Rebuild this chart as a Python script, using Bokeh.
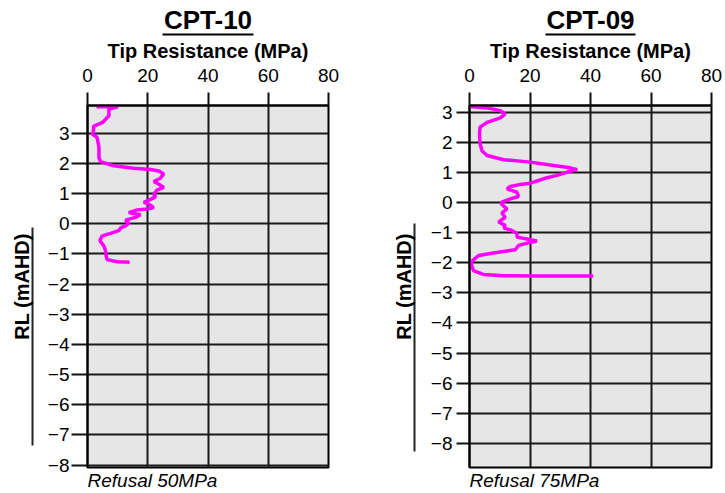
from bokeh.plotting import figure
from bokeh.layouts import row
from bokeh.models import Range1d, FixedTicker, Title, LinearAxis
from bokeh.embed import file_html
from bokeh.resources import INLINE

FONT = "Liberation Sans"

# ---- data (tip resistance MPa vs reduced level mAHD) ----
cpt10_qc = [3.0, 10.1, 7.1, 7.1, 4.9, 2.1, 1.9, 1.6, 3.2, 3.8, 3.8, 4.3, 8.7, 15.4, 20.9,
            23.7, 25.3, 24.2, 22.0, 23.7, 25.3, 23.1, 22.0, 22.6, 20.9, 18.7, 20.3, 22.0,
            19.8, 16.5, 13.7, 17.6, 15.9, 12.6, 13.7, 12.6, 11.0, 10.4, 7.6, 4.9, 4.1,
            5.4, 6.0, 6.2, 6.5, 9.8, 14.0]
cpt10_rl = [3.88, 3.88, 3.80, 3.58, 3.35, 3.24, 3.02, 2.97, 2.86, 2.53, 2.20, 2.06, 1.92,
            1.84, 1.80, 1.75, 1.65, 1.51, 1.40, 1.31, 1.20, 1.12, 0.98, 0.89, 0.81, 0.71,
            0.65, 0.54, 0.49, 0.46, 0.37, 0.30, 0.21, 0.12, 0.01, -0.07, -0.14, -0.23,
            -0.32, -0.40, -0.56, -0.73, -0.89, -1.08, -1.19, -1.26, -1.28]

cpt09_qc = [0.2, 5.8, 10.2, 11.8, 10.2, 5.8, 3.5, 3.3, 3.5, 4.1, 5.8, 11.3, 20.1, 27.8,
            33.3, 35.6, 32.3, 28.9, 25.6, 23.4, 20.1, 16.8, 13.5, 12.4, 15.7, 16.2, 13.5,
            10.7, 10.5, 12.4, 10.7, 11.8, 9.6, 11.8, 11.4, 13.5, 15.7, 15.7, 19.0, 22.3,
            19.0, 16.2, 15.1, 7.9, 3.0, 1.1, 0.5, 1.3, 4.6, 11.3, 22.3, 40.9]
cpt09_rl = [3.19, 3.14, 3.05, 2.94, 2.81, 2.66, 2.50, 2.28, 1.95, 1.72, 1.56, 1.42, 1.34,
            1.23, 1.15, 1.09, 1.01, 0.90, 0.82, 0.75, 0.64, 0.60, 0.53, 0.45, 0.34, 0.20,
            0.12, 0.01, -0.05, -0.21, -0.35, -0.49, -0.65, -0.76, -0.85, -0.91, -1.02,
            -1.15, -1.21, -1.28, -1.35, -1.43, -1.57, -1.68, -1.76, -1.92, -2.03, -2.26,
            -2.39, -2.43, -2.44, -2.44]

x_ticks = [0, 20, 40, 60, 80]
y_ticks = [-8, -7, -6, -5, -4, -3, -2, -1, 0, 1, 2, 3]

titles = ["CPT-10", "CPT-09"]
x_label = "Tip Resistance (MPa)"
y_label = "RL (mAHD)"
notes = ["Refusal 50MPa", "Refusal 75MPa"]


def make_plot(name, note, qc, rl, y_lo, y_hi, width, bl, br, tick_out, lab_standoff,
              spacer, side_bounds):
    p = figure(width=width, height=493, output_backend="svg", toolbar_location=None,
               x_range=Range1d(0, 80), y_range=Range1d(y_lo, y_hi),
               x_axis_location="above",
               min_border_left=bl, min_border_right=br,
               min_border_top=105, min_border_bottom=26)
    p.title.visible = False
    p.background_fill_color = "#e6e6e6"
    p.border_fill_color = "white"
    p.outline_line_color = "black"
    p.outline_line_width = 2

    xa = p.xaxis[0]
    ya = p.yaxis[0]
    xa.ticker = FixedTicker(ticks=x_ticks)
    ya.ticker = FixedTicker(ticks=y_ticks)
    for ax in (xa, ya):
        ax.major_tick_in = 0
        ax.minor_tick_in = 0
        ax.minor_tick_out = 0
        ax.major_tick_line_color = "#111111"
        ax.major_tick_line_width = 2
        ax.axis_line_color = "black"
        ax.axis_line_width = 2
        ax.major_label_text_font = FONT
        ax.major_label_text_font_size = "19px"
        ax.major_label_text_color = "black"
    xa.major_tick_out = 13
    xa.major_label_standoff = 11
    ya.major_tick_out = tick_out
    ya.major_label_standoff = lab_standoff

    p.xgrid.ticker = FixedTicker(ticks=x_ticks)
    p.ygrid.ticker = FixedTicker(ticks=y_ticks)
    p.grid.grid_line_color = "#1a1a1a"
    p.grid.grid_line_width = 2

    # left side: an invisible spacer, then the bracket line carrying the axis title
    sp = LinearAxis(ticker=FixedTicker(ticks=[0]), axis_line_alpha=0,
                    major_tick_out=spacer, major_tick_in=0, minor_tick_out=0,
                    minor_tick_in=0, major_tick_line_alpha=0,
                    major_label_standoff=0, major_label_overrides={0: ""})
    p.add_layout(sp, "left")
    side = LinearAxis(ticker=FixedTicker(ticks=[]), bounds=side_bounds,
                      axis_line_color="#222222", axis_line_width=2,
                      major_tick_out=0, major_tick_in=0, minor_tick_out=0,
                      minor_tick_in=0, major_label_standoff=0,
                      axis_label=y_label, axis_label_standoff=0,
                      axis_label_text_font=FONT, axis_label_text_font_size="20px",
                      axis_label_text_font_style="bold", axis_label_text_color="black")
    p.add_layout(side, "left")

    # above: axis title, underline, chart title
    p.add_layout(Title(text=x_label, text_font=FONT, text_font_size="20px",
                       text_font_style="bold", text_color="black", align="center",
                       standoff=7, offset=0), "above")
    ul = LinearAxis(ticker=FixedTicker(ticks=[]), bounds=(25, 55),
                    axis_line_color="black", axis_line_width=2,
                    major_tick_out=0, major_tick_in=0, minor_tick_out=0,
                    minor_tick_in=0, major_label_standoff=0)
    p.add_layout(ul, "above")
    p.add_layout(Title(text=name, text_font=FONT, text_font_size="26px",
                       text_font_style="bold", text_color="black", align="center",
                       standoff=0, offset=0), "above")
    p.add_layout(Title(text=note, text_font=FONT, text_font_size="19px",
                       text_font_style="italic", text_color="black", align="left",
                       standoff=1, offset=0), "below")

    p.line(qc, rl, line_color="#ff00ff", line_width=3.5)
    return p


p1 = make_plot(titles[0], notes[0], cpt10_qc, cpt10_rl, -8.08, 3.92, 378, 87, 50, 16, 2,
               12, (-7.35, -0.13))
p2 = make_plot(titles[1], notes[1], cpt09_qc, cpt09_rl, -8.8, 3.22, 347, 91, 14, 13, 4,
               13, (-8.28, -0.70))

layout = row(p1, p2)
open("out.html", "w").write(file_html(layout, INLINE))
